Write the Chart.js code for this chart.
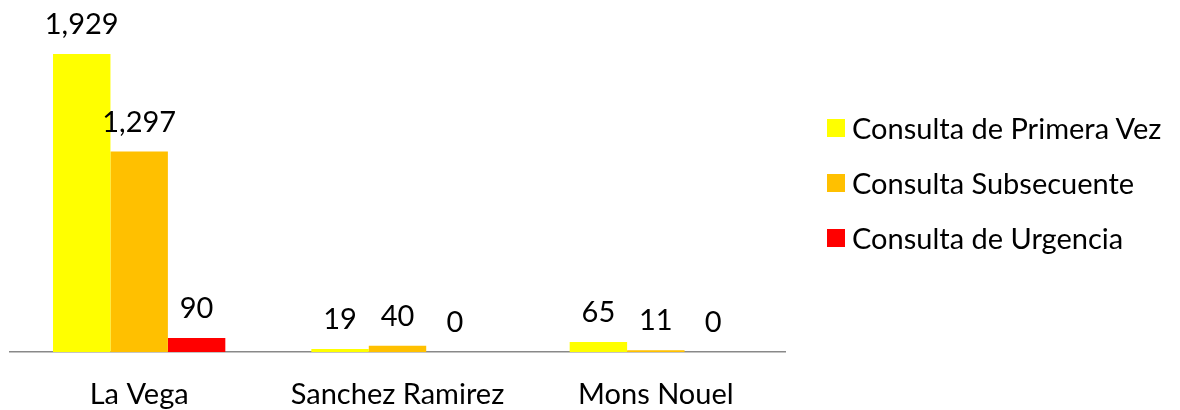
<!DOCTYPE html>
<html>
<head>
<meta charset="utf-8">
<script src="https://cdn.jsdelivr.net/npm/chart.js@4.4.1/dist/chart.umd.min.js"></script>
<style>
  html, body { margin: 0; padding: 0; background: #fff; }
  #wrap { width: 1180px; height: 410px; position: relative; }
  #leyenda { position: absolute; left: 827px; top: 100px; font: 29px Lato, "Open Sans", sans-serif; color: #000; }
  #leyenda div { height: 55px; display: flex; align-items: center; white-space: nowrap; }
  #leyenda span.caja { width: 18px; height: 18px; margin-right: 7px; display: inline-block; }
</style>
</head>
<body>
<div id="wrap"><canvas id="chart"></canvas><div id="leyenda"></div></div>
<script>
// Datos del gráfico
const categorias = ['La Vega', 'Sanchez Ramirez', 'Mons Nouel'];
const primeraVez = [1929, 19, 65];
const subsecuente = [1297, 40, 11];
const urgencia = [90, 0, 0];
const series = ['Consulta de Primera Vez', 'Consulta Subsecuente', 'Consulta de Urgencia'];
const colores = ['#FFFF00', '#FFC000', '#FF0000'];

const fuente = 'Lato, "Open Sans", sans-serif';

// Etiquetas de valor sobre cada barra
const etiquetasValor = {
    id: 'etiquetasValor',
    afterDatasetsDraw(chart) {
        const ctx = chart.ctx;
        ctx.save();
        ctx.font = '29px ' + fuente;
        ctx.fillStyle = '#000';
        ctx.textAlign = 'center';
        ctx.textBaseline = 'alphabetic';
        chart.data.datasets.forEach((ds, i) => {
            chart.getDatasetMeta(i).data.forEach((bar, j) => {
                ctx.fillText(ds.data[j].toLocaleString('en-US'), bar.x, bar.y - 20);
            });
        });
        ctx.restore();
    }
};

let ctx = document.getElementById('chart').getContext('2d');
let grafico = new Chart(ctx, {
    type: 'bar',
    data: {
        labels: categorias,
        datasets: [primeraVez, subsecuente, urgencia].map((d, i) => ({
            label: series[i],
            data: d,
            backgroundColor: colores[i],
            borderWidth: 0,
            barPercentage: 1,
            categoryPercentage: 0.667
        }))
    },
    options: {
        responsive: true,
        maintainAspectRatio: false,
        animation: false,
        layout: {
            padding: { left: 10, top: 43, right: 395, bottom: 0 }
        },
        plugins: {
            legend: { display: false },
            tooltip: { enabled: false }
        },
        scales: {
            y: {
                display: false,
                min: 0,
                max: 2000
            },
            x: {
                grid: { display: false, drawTicks: false },
                border: { display: true, color: '#898989', width: 1.5 },
                ticks: {
                    color: '#000',
                    padding: 25,
                    font: { size: 29, family: fuente }
                },
                afterFit(scale) { scale.height = 58; }
            }
        }
    },
    plugins: [etiquetasValor]
});

// Leyenda en HTML a partir de las series
let leyenda = document.getElementById('leyenda');
series.forEach((s, i) => {
    let fila = document.createElement('div');
    fila.innerHTML = '<span class="caja" style="background:' + colores[i] + '"></span>' + s;
    leyenda.appendChild(fila);
});
</script>
</body>
</html>
